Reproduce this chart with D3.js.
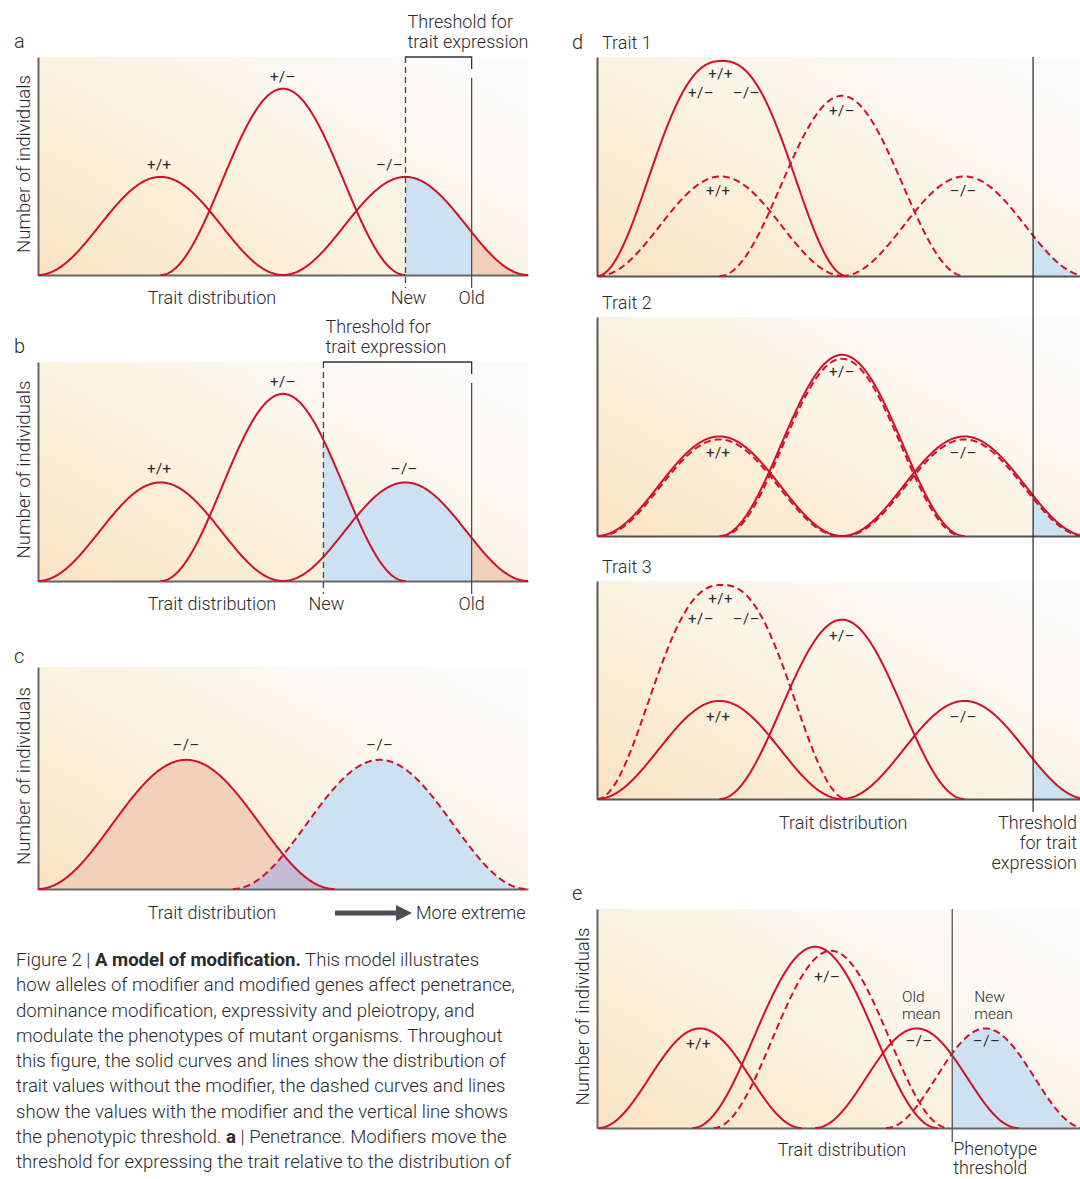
<!DOCTYPE html>
<html>
<head>
<meta charset="utf-8">
<script src="https://cdn.jsdelivr.net/npm/d3@7"></script>
<style>
body { margin: 0; background: #fff; }
svg text { font-family: Roboto, "Liberation Sans", sans-serif; font-weight: 300; fill: #2a2a2a; }
</style>
</head>
<body>
<script>
var width = 1080, height = 1179;

// colours
var red = "#d2102a", blue = "#cce2f3", salmon = "#f3d0b8", purple = "#c4bcd6";

// curve tables: mean, spread (half width), peak height, dashed, flat (top flattening)
var curvesA = [
  {g: "+/+", mean: 1, spread: 1, peak: 0.99, dashed: false},
  {g: "+/–", mean: 2, spread: 1, peak: 1.88, dashed: false},
  {g: "–/–", mean: 3, spread: 1, peak: 0.99, dashed: false}
];
var curvesB = curvesA;
var curvesC = [
  {g: "–/–", mean: 1.21, spread: 1.21, peak: 1.28, dashed: false},
  {g: "–/–", mean: 2.79, spread: 1.2, peak: 1.28, dashed: true}
];
var curvesD1 = [
  {g: "all", mean: 1.02, spread: 1.02, peak: 2.16, dashed: false, flat: 1.2},
  {g: "+/+", mean: 1.01, spread: 1.0, peak: 1.0, dashed: true},
  {g: "+/–", mean: 2.0, spread: 1.0, peak: 1.81, dashed: true},
  {g: "–/–", mean: 3.0, spread: 1.0, peak: 1.0, dashed: true}
];
var curvesD2 = [
  {g: "+/+", mean: 1, spread: 1, peak: 1.0, dashed: false},
  {g: "+/–", mean: 2, spread: 1, peak: 1.82, dashed: false},
  {g: "–/–", mean: 3, spread: 1, peak: 1.0, dashed: false},
  {g: "+/+", mean: 1, spread: 0.98, peak: 0.97, dashed: true},
  {g: "+/–", mean: 2, spread: 0.98, peak: 1.78, dashed: true},
  {g: "–/–", mean: 3, spread: 0.98, peak: 0.97, dashed: true}
];
var curvesD3 = [
  {g: "+/+", mean: 1, spread: 1, peak: 0.99, dashed: false},
  {g: "+/–", mean: 2, spread: 1, peak: 1.81, dashed: false},
  {g: "–/–", mean: 3, spread: 1, peak: 0.99, dashed: false},
  {g: "all", mean: 1.02, spread: 1.02, peak: 2.16, dashed: true, flat: 1.2}
];
var curvesE = [
  {g: "+/+", mean: 0.84, spread: 0.83, peak: 1.0, dashed: false},
  {g: "+/–", mean: 1.78, spread: 1.0, peak: 1.82, dashed: false},
  {g: "–/–", mean: 2.61, spread: 0.83, peak: 1.0, dashed: false},
  {g: "+/–", mean: 1.91, spread: 0.96, peak: 1.78, dashed: true},
  {g: "–/–", mean: 3.17, spread: 0.81, peak: 1.0, dashed: true}
];

// genotype labels: text, x, y (data units)
var labelsA = [["+/+", 0.99, 1.06], ["+/–", 2.0, 1.95], ["–/–", 2.87, 1.06]];
var labelsB = [["+/+", 0.99, 1.07], ["+/–", 2.0, 1.95], ["–/–", 2.99, 1.07]];
var labelsC = [["–/–", 1.21, 1.38], ["–/–", 2.79, 1.38]];
var labelsD1 = [["+/+", 1.01, 1.98], ["+/–", 0.85, 1.79], ["–/–", 1.22, 1.79],
                ["+/–", 2.0, 1.61], ["+/+", 0.99, 0.8], ["–/–", 2.99, 0.8]];
var labelsD2 = [["+/+", 0.99, 0.78], ["+/–", 2.0, 1.6], ["–/–", 2.99, 0.78]];
var labelsD3 = [["+/+", 1.01, 1.97], ["+/–", 0.85, 1.77], ["–/–", 1.22, 1.77],
                ["+/–", 2.0, 1.59], ["+/+", 0.99, 0.78], ["–/–", 2.99, 0.78]];
var labelsE = [["+/+", 0.83, 0.79], ["+/–", 1.88, 1.47], ["–/–", 2.63, 0.82], ["–/–", 3.18, 0.82]];

// thresholds (data units)
var thresholdA = {newT: 3.0, oldT: 3.54};
var thresholdB = {newT: 2.33, oldT: 3.54};
var thresholdD = 3.56;
var thresholdE = 2.90;

var caption = [
  [["Figure 2 | ", 0], ["A model of modification.", 1], [" This model illustrates", 0]],
  [["how alleles of modifier and modified genes affect penetrance,", 0]],
  [["dominance modification, expressivity and pleiotropy, and", 0]],
  [["modulate the phenotypes of mutant organisms. Throughout", 0]],
  [["this figure, the solid curves and lines show the distribution of", 0]],
  [["trait values without the modifier, the dashed curves and lines", 0]],
  [["show the values with the modifier and the vertical line shows", 0]],
  [["the phenotypic threshold. ", 0], ["a", 1], [" | Penetrance. Modifiers move the", 0]],
  [["threshold for expressing the trait relative to the distribution of", 0]]
];

// raised cosine bump
function bump(c, v) {
  var t = (v - c.mean) / c.spread;
  if (Math.abs(t) >= 1) return 0;
  t = Math.pow(Math.abs(t), c.flat || 1);
  return c.peak * (1 + Math.cos(Math.PI * t)) / 2;
}

var svg = d3.select('body').append('svg').attr('width', width).attr('height', height);

var grad = svg.append('defs').append('linearGradient').attr('id', 'bg')
  .attr('x1', 0).attr('y1', 1).attr('x2', 1).attr('y2', 0.2);
[[0, "#f9e4c2"], [0.4, "#fbf0db"], [0.75, "#fcf8f0"], [1, "#fbfbfb"]].forEach(function(s) {
  grad.append('stop').attr('offset', s[0]).attr('stop-color', s[1]);
});

function panel(p) {
  var g = svg.append('g');
  var x = d3.scaleLinear().domain([0, 4]).range([p.left, p.left + 490]);
  var y = d3.scaleLinear().domain([0, 2.2]).range([p.base, p.top]);

  g.append('rect').attr('x', p.left).attr('y', p.top)
    .attr('width', 490).attr('height', p.base - p.top).attr('fill', 'url(#bg)');

  // shaded areas
  (p.fills || []).forEach(function(f) {
    var xs = d3.range(f.from, f.to, 0.005).concat([f.to]);
    var area = d3.area()
      .x(function(d) { return x(d); })
      .y0(y(0))
      .y1(function(d) {
        var vals = f.curves.map(function(i) { return bump(p.curves[i], d); });
        return y(f.mode === 'min' ? d3.min(vals) : d3.max(vals));
      });
    g.append('path').datum(xs).attr('d', area).attr('fill', f.color);
  });

  // axes
  var ax = g.append('g').attr('transform', 'translate(0,' + p.base + ')')
    .call(d3.axisBottom(x).tickValues([]).tickSizeOuter(0));
  var ay = g.append('g').attr('transform', 'translate(' + p.left + ',0)')
    .call(d3.axisLeft(y).tickValues([]).tickSizeOuter(0));
  [ax, ay].forEach(function(a) {
    a.select('.domain').attr('stroke', p.axisColor || '#666').attr('stroke-width', 2);
  });

  // curves
  p.curves.forEach(function(c) {
    var xs = d3.range(c.mean - c.spread, c.mean + c.spread, 0.005).concat([c.mean + c.spread]);
    var line = d3.line()
      .x(function(d) { return x(d); })
      .y(function(d) { return y(bump(c, d)); });
    g.append('path').datum(xs).attr('d', line)
      .attr('fill', 'none').attr('stroke', red).attr('stroke-width', 2)
      .attr('stroke-dasharray', c.dashed ? '7,4' : null);
  });

  // genotype labels
  g.selectAll('text.geno').data(p.labels).join('text')
    .attr('class', 'geno')
    .attr('x', function(d) { return x(d[1]); })
    .attr('y', function(d) { return y(d[2]); })
    .attr('text-anchor', 'middle')
    .attr('font-size', 15)
    .attr('letter-spacing', 0.5)
    .style('font-weight', 400)
    .text(function(d) { return d[0]; });

  if (p.ylabel) {
    g.append('text')
      .attr('transform', 'translate(' + (p.left - 8) + ',' + ((p.top + p.base) / 2 - 2) + ') rotate(-90)')
      .attr('text-anchor', 'middle').attr('font-size', 18.6)
      .text('Number of individuals');
  }
  return {g: g, x: x, y: y};
}

function txt(g, x, y, s, opts) {
  opts = opts || {};
  return g.append('text').attr('x', x).attr('y', y)
    .attr('text-anchor', opts.anchor || 'start')
    .attr('font-size', opts.size || 18)
    .text(s);
}

// ---- panel a ----
var pa = panel({left: 38, top: 57, base: 275, curves: curvesA, labels: labelsA, ylabel: true,
  fills: [{curves: [2], from: thresholdA.newT, to: thresholdA.oldT, color: blue},
          {curves: [2], from: thresholdA.oldT, to: 4, color: salmon}]});
// ---- panel b ----
var pb = panel({left: 38, top: 362, base: 581, curves: curvesB, labels: labelsB, ylabel: true,
  fills: [{curves: [1, 2], from: thresholdB.newT, to: thresholdB.oldT, color: blue},
          {curves: [2], from: thresholdB.oldT, to: 4, color: salmon}]});

// threshold brackets for a and b
[[pa, thresholdA, 57, 275, 'a'], [pb, thresholdB, 362, 581, 'b']].forEach(function(t) {
  var P = t[0], th = t[1], top = t[2], base = t[3];
  var xn = P.x(th.newT), xo = P.x(th.oldT);
  P.g.append('line').attr('x1', xn).attr('x2', xn).attr('y1', top).attr('y2', base + 13)
    .attr('stroke', '#444').attr('stroke-width', 1.3).attr('stroke-dasharray', '6,4');
  P.g.append('path').attr('d', 'M' + (xn - 0.5) + ',' + top + 'H' + xo + 'V' + (top + 12))
    .attr('fill', 'none').attr('stroke', '#333').attr('stroke-width', 1.3);
  P.g.append('line').attr('x1', xo).attr('x2', xo).attr('y1', top + 21).attr('y2', base + 13)
    .attr('stroke', '#444').attr('stroke-width', 1.2);
  txt(P.g, xn + 2, top - 29, 'Threshold for');
  txt(P.g, xn + 2, top - 9, 'trait expression');
  txt(P.g, P.x(1.42), base + 29, 'Trait distribution', {anchor: 'middle'});
  txt(P.g, xn + 3, base + 29, 'New', {anchor: 'middle'});
  txt(P.g, xo, base + 29, 'Old', {anchor: 'middle'});
  txt(P.g, 14, top - 9, t[4], {size: 20});
});

// ---- panel c ----
var pc = panel({left: 38, top: 667, base: 889, curves: curvesC, labels: labelsC, ylabel: true,
  fills: [{curves: [0], from: 0, to: 2.42, color: salmon},
          {curves: [1], from: 1.59, to: 4, color: blue},
          {curves: [0, 1], mode: 'min', from: 1.59, to: 2.42, color: purple}]});
txt(pc.g, 14, 663, 'c', {size: 20});
txt(pc.g, pc.x(1.42), 919, 'Trait distribution', {anchor: 'middle'});
pc.g.append('line').attr('x1', 335).attr('x2', 398).attr('y1', 913).attr('y2', 913)
  .attr('stroke', '#4a4f57').attr('stroke-width', 5);
pc.g.append('path').attr('d', 'M396,905 L412,913 L396,921 Z').attr('fill', '#4a4f57');
txt(pc.g, 416, 919, 'More extreme');

// ---- panel d ----
var pd1 = panel({left: 597, top: 57, base: 276, curves: curvesD1, labels: labelsD1, axisColor: '#555',
  fills: [{curves: [3], from: thresholdD, to: 4, color: blue}]});
var pd2 = panel({left: 597, top: 317, base: 536, curves: curvesD2, labels: labelsD2, axisColor: '#555',
  fills: [{curves: [2], from: thresholdD, to: 4, color: blue}]});
var pd3 = panel({left: 597, top: 581, base: 799, curves: curvesD3, labels: labelsD3, axisColor: '#555',
  fills: [{curves: [2], from: thresholdD, to: 4, color: blue}]});
var xd = pd1.x(thresholdD);
svg.append('line').attr('x1', xd).attr('x2', xd).attr('y1', 57).attr('y2', 812)
  .attr('stroke', '#222').attr('stroke-width', 1.2);
txt(svg, 572, 49, 'd', {size: 20});
txt(svg, 602, 49, 'Trait 1');
txt(svg, 602, 309, 'Trait 2');
txt(svg, 602, 573, 'Trait 3');
txt(svg, pd3.x(2.01), 829, 'Trait distribution', {anchor: 'middle'});
txt(svg, 1077, 829, 'Threshold', {anchor: 'end'});
txt(svg, 1077, 849, 'for trait', {anchor: 'end'});
txt(svg, 1077, 869, 'expression', {anchor: 'end'});

// ---- panel e ----
var pe = panel({left: 597, top: 909, base: 1128, curves: curvesE, labels: labelsE, ylabel: true,
  fills: [{curves: [4], from: thresholdE, to: 4, color: blue}]});
var xe = pe.x(thresholdE);
pe.g.append('line').attr('x1', xe).attr('x2', xe).attr('y1', 909).attr('y2', 1142)
  .attr('stroke', '#555').attr('stroke-width', 1.3);
txt(svg, 572, 900, 'e', {size: 20});
txt(svg, pe.x(2.0), 1156, 'Trait distribution', {anchor: 'middle'});
txt(svg, xe + 1, 1155, 'Phenotype');
txt(svg, xe + 1, 1174, 'threshold');
txt(svg, pe.x(2.49), 1002, 'Old', {size: 15.5});
txt(svg, pe.x(2.49), 1019, 'mean', {size: 15.5});
txt(svg, pe.x(3.08), 1002, 'New', {size: 15.5});
txt(svg, pe.x(3.08), 1019, 'mean', {size: 15.5});

// ---- caption ----
var cap = svg.append('text').attr('font-size', 18.6);
caption.forEach(function(line, i) {
  line.forEach(function(part, j) {
    var ts = cap.append('tspan').text(part[0]);
    if (j === 0) ts.attr('x', 16).attr('y', 966 + i * 25.25);
    if (part[1]) ts.attr('font-weight', 700).style('font-weight', 700);
  });
});

console.log('ready..');
</script>
</body>
</html>
